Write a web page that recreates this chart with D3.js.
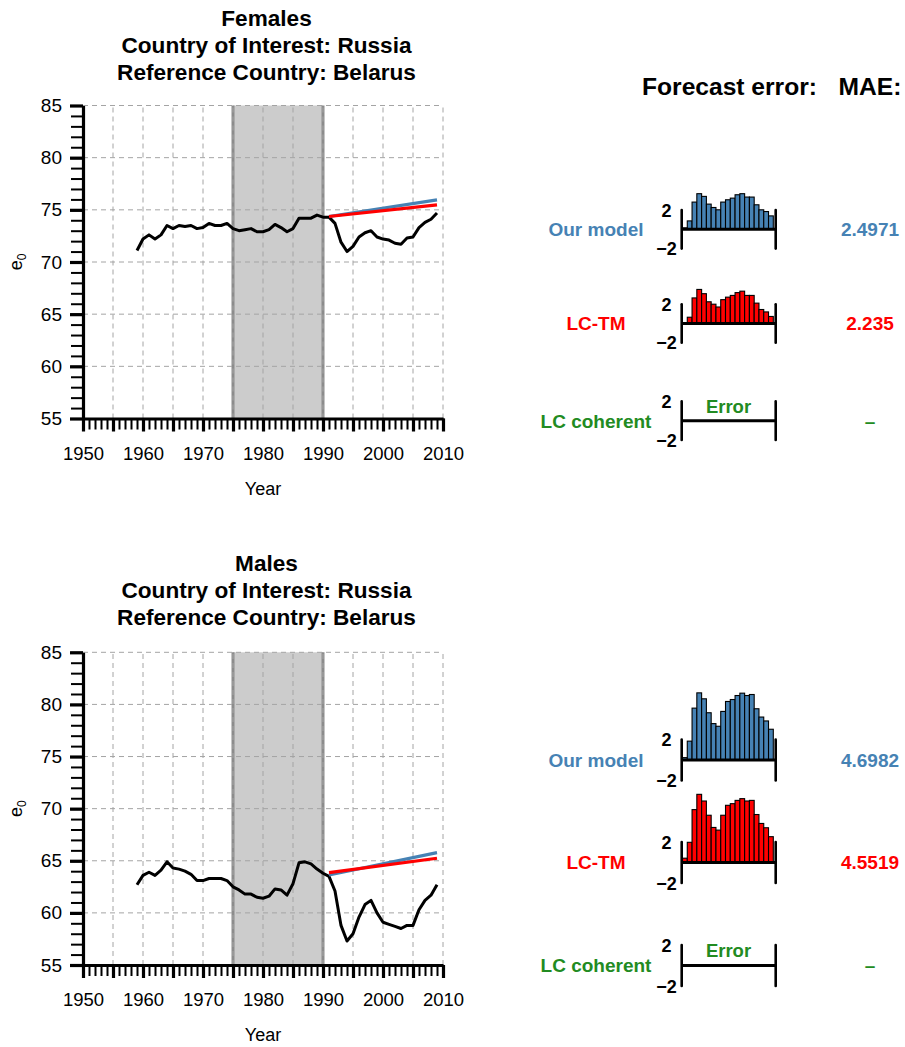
<!DOCTYPE html>
<html>
<head>
<meta charset="utf-8">
<script src="https://cdn.jsdelivr.net/npm/d3@7/dist/d3.min.js"></script>
<style>
  body { margin: 0; background: #fff; }
  svg { display: block; }
  text { font-family: "Liberation Sans", Arial, Helvetica, sans-serif; }
</style>
</head>
<body>
<svg id="chart" width="905" height="1047"></svg>
<script>
// ---- Data -------------------------------------------------------------
const years = [1959, 1960, 1961, 1962, 1963, 1964, 1965, 1966, 1967, 1968,
               1969, 1970, 1971, 1972, 1973, 1974, 1975, 1976, 1977, 1978,
               1979, 1980, 1981, 1982, 1983, 1984, 1985, 1986, 1987, 1988,
               1989, 1990, 1991, 1992, 1993, 1994, 1995, 1996, 1997, 1998,
               1999, 2000, 2001, 2002, 2003, 2004, 2005, 2006, 2007, 2008, 2009];

// Observed life expectancy at birth, Russia
const femaleObserved = [71.1, 72.2, 72.6, 72.2, 72.6, 73.5, 73.2, 73.5, 73.4, 73.5,
                        73.2, 73.3, 73.7, 73.5, 73.5, 73.7, 73.2, 73.0, 73.1, 73.2,
                        72.9, 72.9, 73.1, 73.6, 73.3, 72.9, 73.2, 74.2, 74.2, 74.2,
                        74.5, 74.3, 74.3, 73.7, 71.9, 71.0, 71.5, 72.4, 72.8, 73.0,
                        72.4, 72.2, 72.1, 71.8, 71.7, 72.3, 72.4, 73.3, 73.8, 74.1, 74.7];
const maleObserved = [62.7, 63.6, 63.9, 63.6, 64.1, 64.9, 64.3, 64.2, 64.0, 63.7,
                      63.1, 63.1, 63.3, 63.3, 63.3, 63.1, 62.5, 62.2, 61.8, 61.8,
                      61.5, 61.4, 61.6, 62.3, 62.2, 61.7, 62.8, 64.8, 64.9, 64.7,
                      64.2, 63.8, 63.5, 62.1, 58.8, 57.3, 58.0, 59.6, 60.8, 61.2,
                      60.0, 59.1, 58.9, 58.7, 58.5, 58.8, 58.8, 60.3, 61.2, 61.7, 62.7];

// Forecast lines (start / end of the forecast horizon)
const forecastYears = [1991, 2009];
const femaleOurModel = [74.36, 75.96];
const femaleLCTM = [74.36, 75.48];
const maleOurModel = [63.64, 65.78];
const maleLCTM = [63.86, 65.24];

// Fitting window shown as a shaded band
const fitWindow = [1975, 1990];

// Forecast errors per year (forecast minus observed)
const errorYears = [1991, 1992, 1993, 1994, 1995, 1996, 1997, 1998, 1999, 2000,
                    2001, 2002, 2003, 2004, 2005, 2006, 2007, 2008, 2009];
const femaleOurModelError = [0.15, 0.87, 2.82, 3.69, 3.41, 2.61, 2.26, 2.02, 2.82, 3.06,
                             3.23, 3.58, 3.69, 3.34, 3.34, 2.54, 2.02, 1.84, 1.39];
const femaleLCTMError = [0.10, 0.65, 2.65, 3.53, 3.09, 2.25, 2.00, 1.71, 2.47, 2.73,
                         2.91, 3.20, 3.35, 2.91, 2.91, 2.11, 1.45, 1.20, 0.73];
const maleOurModelError = [0.23, 1.84, 5.06, 6.55, 5.97, 4.61, 3.55, 3.29, 4.74, 5.71,
                           5.90, 6.29, 6.52, 6.29, 6.39, 5.00, 4.19, 3.81, 3.00];
const maleLCTMError = [0.42, 1.97, 5.16, 6.65, 6.00, 4.61, 3.42, 3.16, 4.61, 5.58,
                       5.74, 6.06, 6.23, 6.00, 6.06, 4.68, 3.81, 3.39, 2.52];

const modelNames = ["Our model", "LC-TM", "LC coherent"];
const femaleMAE = ["2.4971", "2.235", "\u2013"];
const maleMAE = ["4.6982", "4.5519", "\u2013"];

// Axis ticks
const xMajorTicks = [1950, 1955, 1960, 1965, 1970, 1975, 1980, 1985, 1990, 1995, 2000, 2005, 2010];
const xLabelTicks = [1950, 1960, 1970, 1980, 1990, 2000, 2010];
const xMinorTicks = d3.range(1950, 2011);
const yMajorTicks = [55, 60, 65, 70, 75, 80, 85];
const yMinorTicks = d3.range(55, 86);
const errorTicks = [-2, 2];

// ---- Styles -----------------------------------------------------------
const colors = { ours: "#4682B4", lctm: "#FF0000", coherent: "#228B22" };
const modelColors = [colors.ours, colors.lctm, colors.coherent];

const svg = d3.select("#chart");

// ---- Life expectancy panel -------------------------------------------
function drawLifePanel(cfg) {
  const g = svg.append("g");
  const x = d3.scaleLinear().domain([1950, 2010]).range([83, 443]);
  const y = d3.scaleLinear().domain([55, 85]).range([cfg.bottom, cfg.top]);

  // title
  g.append("g").selectAll("text").data(cfg.title).join("text")
    .attr("x", 266.5).attr("y", (d, i) => cfg.titleY[i] + 8)
    .attr("text-anchor", "middle").attr("font-size", 22.6).attr("font-weight", "bold")
    .text(d => d);

  // fitting window band
  g.append("rect")
    .attr("x", x(fitWindow[0])).attr("width", x(fitWindow[1]) - x(fitWindow[0]))
    .attr("y", y(85)).attr("height", y(55) - y(85))
    .attr("fill", "#cccccc");
  g.append("g").selectAll("line").data(fitWindow).join("line")
    .attr("x1", d => x(d)).attr("x2", d => x(d))
    .attr("y1", y(85)).attr("y2", y(55))
    .attr("stroke", "#8c8c8c").attr("stroke-width", 3);

  // grid
  const grid = g.append("g").attr("stroke", "#a4a4a4").attr("stroke-width", 1)
    .attr("stroke-dasharray", "5,4");
  grid.selectAll(".gv").data(xMajorTicks.filter(d => d > 1950)).join("line")
    .attr("x1", d => x(d)).attr("x2", d => x(d))
    .attr("y1", y(55)).attr("y2", y(85));
  grid.selectAll(".gh").data(yMajorTicks.filter(d => d > 55)).join("line")
    .attr("x1", x(1950)).attr("x2", x(2010))
    .attr("y1", d => y(d)).attr("y2", d => y(d));

  // axes: minor ticks
  const xMinor = g.append("g").attr("transform", `translate(0,${cfg.bottom})`)
    .call(d3.axisBottom(x).tickValues(xMinorTicks).tickSize(11).tickSizeOuter(0).tickFormat(""));
  xMinor.select(".domain").remove();
  xMinor.selectAll(".tick line").attr("stroke-width", 2);

  const yMinor = g.append("g").attr("transform", "translate(83,0)")
    .call(d3.axisLeft(y).tickValues(yMinorTicks).tickSize(12).tickSizeOuter(0).tickFormat(""));
  yMinor.select(".domain").remove();
  yMinor.selectAll(".tick line").attr("stroke-width", 2);

  // axes: major ticks and labels
  const xMajor = g.append("g").attr("transform", `translate(0,${cfg.bottom})`)
    .call(d3.axisBottom(x).tickValues(xMajorTicks).tickSize(13).tickSizeOuter(0)
      .tickPadding(15).tickFormat(d => xLabelTicks.includes(d) ? d : ""));
  xMajor.select(".domain").attr("stroke-width", 3.2);
  xMajor.selectAll(".tick line").attr("stroke-width", 3.2);
  xMajor.selectAll("text").attr("font-size", 18.5).attr("fill", "#000");

  const yMajor = g.append("g").attr("transform", "translate(83,0)")
    .call(d3.axisLeft(y).tickValues(yMajorTicks).tickSize(13).tickSizeOuter(0).tickPadding(8));
  yMajor.select(".domain").attr("stroke-width", 3.2);
  yMajor.selectAll(".tick line").attr("stroke-width", 3.2);
  yMajor.selectAll("text").attr("font-size", 19).attr("fill", "#000");

  // axis titles
  g.append("text").attr("x", x(1980)).attr("y", cfg.bottom + 76)
    .attr("text-anchor", "middle").attr("font-size", 18).text("Year");
  const yl = g.append("text")
    .attr("transform", `translate(22,${(cfg.top + cfg.bottom) / 2}) rotate(-90)`)
    .attr("text-anchor", "middle").attr("font-size", 18);
  yl.append("tspan").text("e");
  yl.append("tspan").attr("font-size", 12).attr("dy", 4).text("0");

  // observed series
  const line = d3.line().x((d, i) => x(years[i])).y(d => y(d));
  g.append("path").datum(cfg.observed).attr("d", line)
    .attr("fill", "none").attr("stroke", "#000").attr("stroke-width", 3)
    .attr("stroke-linejoin", "round");

  // forecasts
  const fline = d3.line().x((d, i) => x(forecastYears[i])).y(d => y(d));
  [[cfg.ours, colors.ours], [cfg.lctm, colors.lctm]].forEach(([vals, col]) => {
    g.append("path").datum(vals).attr("d", fline)
      .attr("fill", "none").attr("stroke", col).attr("stroke-width", 3.2);
  });
}

// ---- Forecast error panels -------------------------------------------
function drawErrorPanel(base, half, errors, idx, mae) {
  const g = svg.append("g");
  const left = 681.7, right = 775.7;
  const xb = d3.scaleBand().domain(errorYears).range([682.5, 773.3]).padding(0);
  const y = d3.scaleLinear().domain([-2, 2]).range([base + half, base - half]);
  const col = modelColors[idx];

  // model label and MAE
  g.append("text").attr("x", 596).attr("y", y(0) + 6.8)
    .attr("text-anchor", "middle").attr("font-size", 19).attr("font-weight", "bold")
    .attr("fill", col).text(modelNames[idx]);
  g.append("text").attr("x", 870).attr("y", y(0) + 6.8)
    .attr("text-anchor", "middle").attr("font-size", 19).attr("font-weight", "bold")
    .attr("fill", col).text(mae);

  if (errors) {
    g.append("g").selectAll("rect").data(errors).join("rect")
      .attr("x", (d, i) => xb(errorYears[i])).attr("width", xb.bandwidth())
      .attr("y", d => Math.min(y(d), y(0))).attr("height", d => Math.abs(y(0) - y(d)))
      .attr("fill", col).attr("stroke", "#000").attr("stroke-width", 1.1);
  } else {
    g.append("text").attr("x", 728.5).attr("y", y(2) + 12)
      .attr("text-anchor", "middle").attr("font-size", 18.5).attr("font-weight", "bold")
      .attr("fill", colors.coherent).text("Error");
  }

  // frame: baseline and end bars
  g.append("line").attr("x1", left).attr("x2", right).attr("y1", y(0)).attr("y2", y(0))
    .attr("stroke", "#000").attr("stroke-width", 3);
  g.append("g").selectAll("line").data([left, right]).join("line")
    .attr("x1", d => d).attr("x2", d => d).attr("y1", y(-2)).attr("y2", y(2))
    .attr("stroke", "#000").attr("stroke-width", 2.6).attr("stroke-linecap", "round");

  g.append("g").selectAll("text").data(errorTicks).join("text")
    .attr("x", 666.5).attr("y", d => y(d) + 6.5)
    .attr("text-anchor", "middle").attr("font-size", 18).attr("font-weight", "bold")
    .text(d => d < 0 ? "\u2212" + Math.abs(d) : d);
}

// ---- Layout -----------------------------------------------------------
drawLifePanel({
  title: ["Females", "Country of Interest: Russia", "Reference Country: Belarus"],
  titleY: [18.3, 45, 71.7], top: 105.5, bottom: 418.5,
  observed: femaleObserved, ours: femaleOurModel, lctm: femaleLCTM
});
drawLifePanel({
  title: ["Males", "Country of Interest: Russia", "Reference Country: Belarus"],
  titleY: [563, 590, 617], top: 652.3, bottom: 965,
  observed: maleObserved, ours: maleOurModel, lctm: maleLCTM
});

svg.append("text").attr("x", 729.5).attr("y", 95).attr("text-anchor", "middle")
  .attr("font-size", 24.6).attr("font-weight", "bold").text("Forecast error:");
svg.append("text").attr("x", 870).attr("y", 95).attr("text-anchor", "middle")
  .attr("font-size", 24.6).attr("font-weight", "bold").text("MAE:");

drawErrorPanel(229.3, 19.3, femaleOurModelError, 0, femaleMAE[0]);
drawErrorPanel(323.5, 19.3, femaleLCTMError, 1, femaleMAE[1]);
drawErrorPanel(420.7, 19.3, null, 2, femaleMAE[2]);
drawErrorPanel(760, 20.5, maleOurModelError, 0, maleMAE[0]);
drawErrorPanel(862.5, 20.5, maleLCTMError, 1, maleMAE[1]);
drawErrorPanel(965.5, 20.5, null, 2, maleMAE[2]);
</script>
</body>
</html>
